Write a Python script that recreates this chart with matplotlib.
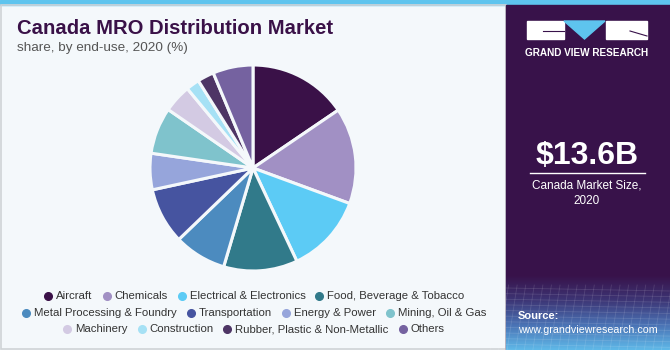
import numpy as np
import matplotlib
matplotlib.use("Agg")
import matplotlib.pyplot as plt
from matplotlib.patches import Rectangle, Polygon
from matplotlib.textpath import TextPath
from matplotlib.font_manager import FontProperties

plt.rcParams['font.family'] = ['Liberation Sans', 'DejaVu Sans']

# data (share, %)
segments = ["Aircraft", "Chemicals", "Electrical & Electronics", "Food, Beverage & Tobacco",
            "Metal Processing & Foundry", "Transportation", "Energy & Power", "Mining, Oil & Gas",
            "Machinery", "Construction", "Rubber, Plastic & Non-Metallic", "Others"]
shares = [15.5, 15.1, 12.4, 11.6, 8.2, 8.8, 5.7, 7.3, 4.4, 2.1, 2.6, 6.3]
colors = ["#3a1148", "#a190c4", "#5ccbf5", "#317a8a", "#4c8bbf", "#4654a0",
          "#96a5db", "#7fc3cc", "#d3cae3", "#a6e1f5", "#4e3565", "#7562a0"]
legend_rows = [[0, 1, 2, 3], [4, 5, 6, 7], [8, 9, 10, 11]]

W, H = 670, 350
fig = plt.figure(figsize=(W / 100, H / 100), dpi=100)
fig.patch.set_facecolor("#f4f8fb")

# overlay in pixel coords
bg = fig.add_axes([0, 0, 1, 1])
bg.axis("off")

# top stripe and outer border
bg.add_patch(Rectangle((0, 0), W, 5, color="#5ec4ee", zorder=1))
bg.add_patch(Rectangle((0.5, 5), 505, 344, fill=False, ec="#cfd3d6", lw=1.2, zorder=1))

# right panel
bg.add_patch(Rectangle((506, 5), W - 506, H - 5, color="#38124a", zorder=1))
grad = np.linspace(0, 1, 100).reshape(-1, 1)
cmap = matplotlib.colors.LinearSegmentedColormap.from_list(
    "g", ["#38124a", "#3d3575", "#4a72b4", "#5fb8e8"])
bg.imshow(grad, extent=(506, W, H, 275), cmap=cmap, aspect="auto", zorder=2)
for yy in np.linspace(288, 350, 12):
    bg.plot([506, W], [yy, yy + 3], color="white", alpha=0.12, lw=0.6, zorder=3)
for xx in np.linspace(500, 680, 22):
    bg.plot([xx, xx - 10], [285, H], color="white", alpha=0.12, lw=0.6, zorder=3)
bg.set_xlim(0, W)
bg.set_ylim(H, 0)

# logo
bg.add_patch(Rectangle((527, 21), 37, 18, color="white", zorder=4))
bg.add_patch(Polygon([[564, 21], [605, 21], [584.5, 39]], color="#5ec4ee", zorder=4))
bg.add_patch(Rectangle((606, 21), 41, 18, color="white", zorder=4))
bg.plot([543, 564], [31, 31], color="#38124a", lw=0.8, zorder=5)
bg.plot([630, 647], [31, 36], color="#38124a", lw=0.8, zorder=5)
bg.text(587, 53, "GRAND VIEW RESEARCH", color="white", fontsize=7.2, fontweight="bold",
        ha="center", va="center", zorder=5)

bg.text(587, 156, "$13.6B", color="white", fontsize=23, fontweight="bold",
        ha="center", va="center", zorder=5)
bg.plot([530, 645], [173, 173], color="white", lw=1, zorder=5)
bg.text(587, 186, "Canada Market Size,", color="white", fontsize=8.5, ha="center", va="center", zorder=5)
bg.text(587, 201, "2020", color="white", fontsize=8.5, ha="center", va="center", zorder=5)

bg.text(518, 316, "Source:", color="white", fontsize=8, fontweight="bold", va="center", zorder=5)
bg.text(518, 330, "www.grandviewresearch.com", color="white", fontsize=7.7, va="center", zorder=5)

# title
bg.text(17, 28, "Canada MRO Distribution Market", color="#3a1148", fontsize=14.6,
        fontweight="bold", va="center")
bg.text(17, 48, "share, by end-use, 2020 (%)", color="#555555", fontsize=9.7, va="center")

# legend rows: circle marker + label, each row centred
row_y = [296, 313, 329]
fp = FontProperties(family="Liberation Sans", size=8.2)
for r, idxs in enumerate(legend_rows):
    widths = [TextPath((0, 0), segments[i], prop=fp).get_extents().width * 100 / 72
              for i in idxs]
    gap_marker, gap_item = 11, 12
    total = sum(gap_marker + w for w in widths) + gap_item * (len(idxs) - 1)
    x = 254 - total / 2
    for i, w in zip(idxs, widths):
        bg.plot(x + 3, row_y[r], "o", ms=5.5, color=colors[i], zorder=5)
        bg.text(x + gap_marker, row_y[r], segments[i], color="#333333", fontproperties=fp,
                va="center", ha="left", zorder=5)
        x += gap_marker + w + gap_item

# pie
cx, cy, rad = 253, 168, 103
pax = fig.add_axes([(cx - rad) / W, (H - cy - rad) / H, 2 * rad / W, 2 * rad / H])
pax.pie(shares, colors=colors, startangle=90, counterclock=False,
        wedgeprops=dict(edgecolor="#f4f8fb", linewidth=2.2))
pax.set_xlim(-1, 1)
pax.set_ylim(-1, 1)
pax.axis("off")

fig.savefig("out.png", dpi=100, facecolor=fig.get_facecolor())
